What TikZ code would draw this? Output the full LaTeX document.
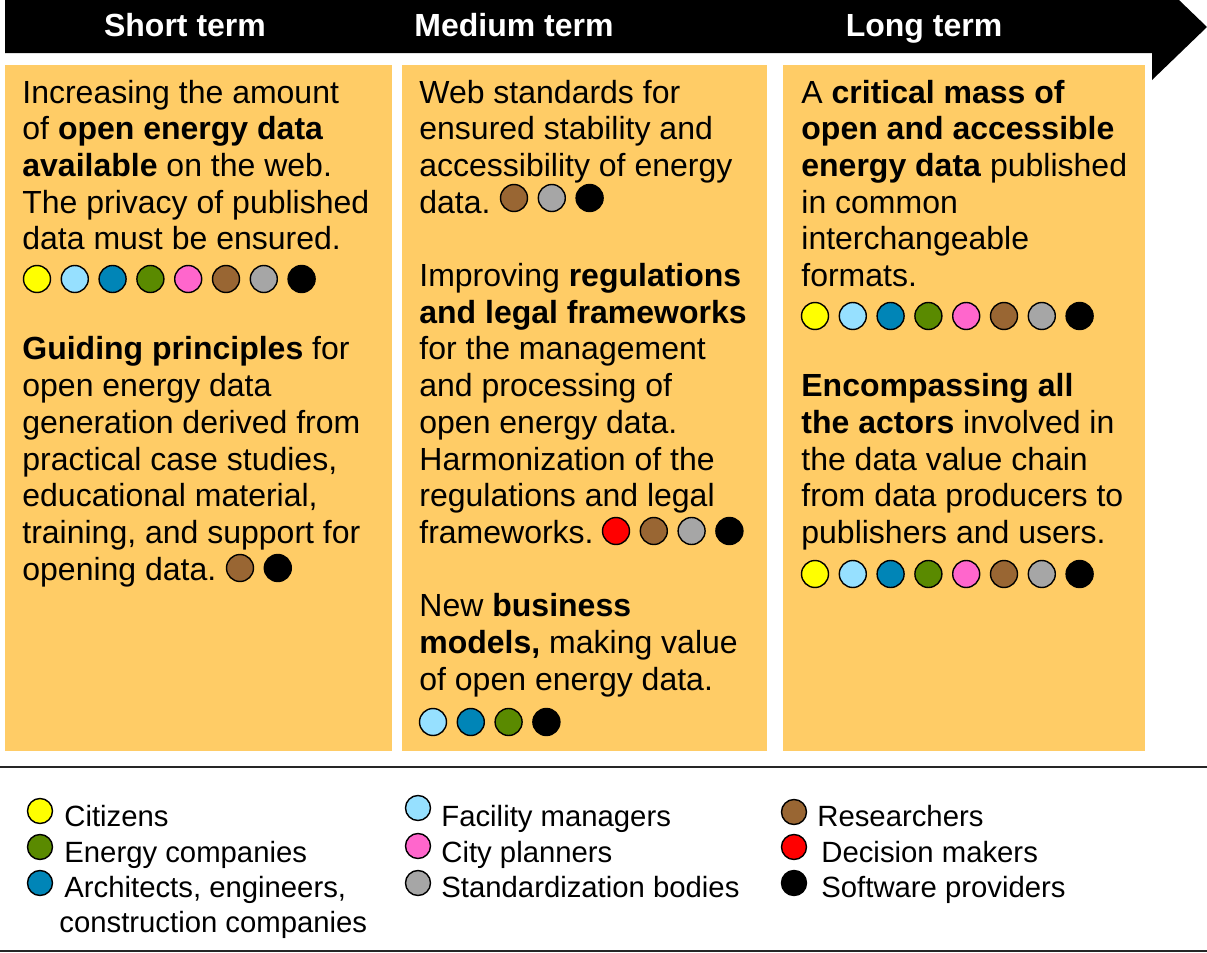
\documentclass[tikz,border=0pt]{standalone}
\usepackage{fontspec}
\setmainfont{Liberation Sans}
\definecolor{boxc}{HTML}{FFCC66}
\definecolor{cy}{HTML}{FFFF00}
\definecolor{clb}{HTML}{96E0FF}
\definecolor{cb}{HTML}{0085B7}
\definecolor{cg}{HTML}{5A8A00}
\definecolor{cp}{HTML}{FF66CC}
\definecolor{cbr}{HTML}{996633}
\definecolor{cgr}{HTML}{A6A6A6}
\definecolor{cr}{HTML}{FF0000}
\definecolor{ck}{HTML}{000000}
\newcommand\paralines[4]{%
  \foreach \t [count=\i] in {#4} {\node[txt] (#1\i) at ({#2},{#3+(\i-1)*36.7}) {\t};}}
\newcommand\dotrow[4]{%
  \foreach \c [count=\i] in {#4} {\node[dot, fill=\c] (#1\i) at ({#2+(\i-1)*37.8},{#3}) {};}}
\begin{document}
\begin{tikzpicture}[x=0.5pt,y=-0.5pt,
  txt/.style={anchor=base west, inner sep=0pt, font=\fontsize{16}{18}\selectfont},
  leg/.style={anchor=base west, inner sep=0pt, font=\fontsize{14.65}{16}\selectfont},
  head/.style={anchor=base, inner sep=0pt, text=white, font=\fontsize{16}{18}\selectfont\bfseries},
  dot/.style={circle, draw=black, line width=0.7pt, minimum size=13.5pt, inner sep=0pt},
  ldot/.style={dot, minimum size=12.5pt},
  box/.style={fill=boxc, anchor=north west, inner sep=0pt, outer sep=0pt}]
\useasboundingbox (0,0) rectangle (1207,953);
% header arrow
\fill[black] (5,0) -- (1152,0) -- (1152,-26) -- (1207,27) -- (1152,80) -- (1152,53) -- (5,53) -- cycle;
\node[head] (h1) at (185,36) {Short term};
\node[head] (h2) at (514,36) {Medium term};
\node[head] (h3) at (924,36) {Long term};
% boxes
\node[box, minimum width=193.5pt, minimum height=343pt] (box1) at (5,65) {};
\node[box, minimum width=182.5pt, minimum height=343pt] (box2) at (402,65) {};
\node[box, minimum width=181pt, minimum height=343pt] (box3) at (783,65) {};
% box 1
\paralines{a}{22}{103}{{Increasing the amount},{of \textbf{open energy data}},{\textbf{available} on the web.},{The privacy of published},{data must be ensured.}}
\dotrow{ra}{37}{279}{cy,clb,cb,cg,cp,cbr,cgr,ck}
\paralines{b}{22}{359.9}{{\textbf{Guiding principles} for},{open energy data},{generation derived from},{practical case studies,},{educational material,},{training, and support for},{opening data.}}
\dotrow{rb}{240}{568}{cbr,ck}
% box 2
\paralines{c}{419}{103}{{Web standards for},{ensured stability and},{accessibility of energy},{data.}}
\dotrow{rc}{514}{198}{cbr,cgr,ck}
\paralines{d}{419}{286.5}{{Improving \textbf{regulations}},{\textbf{and legal frameworks}},{for the management},{and processing of},{open energy data.},{Harmonization of the},{regulations and legal},{frameworks.}}
\dotrow{rd}{616}{531}{cr,cbr,cgr,ck}
\paralines{e}{419}{616.8}{{New \textbf{business}},{\textbf{models,} making value},{of open energy data.}}
\dotrow{re}{433}{722}{clb,cb,cg,ck}
% box 3
\paralines{f}{801}{103}{{A \textbf{critical mass of}},{\textbf{open and accessible}},{\textbf{energy data} published},{in common},{interchangeable},{formats.}}
\dotrow{rf}{815}{316}{cy,clb,cb,cg,cp,cbr,cgr,ck}
\paralines{g}{801}{396.6}{{\textbf{Encompassing all}},{\textbf{the actors} involved in},{the data value chain},{from data producers to},{publishers and users.}}
\dotrow{rg}{815}{574}{cy,clb,cb,cg,cp,cbr,cgr,ck}
% separators
\draw[line width=1pt, black!85] (0,767) -- (1207,767);
\draw[line width=1pt, black!85] (0,951) -- (1207,951);
% legend
\node[ldot, fill=cy] (l1) at (40,811) {};
\node[ldot, fill=cg] (l2) at (40,847) {};
\node[ldot, fill=cb] (l3) at (40,883) {};
\node[leg] (t1) at (64,826) {Citizens};
\node[leg] (t2) at (64,862) {Energy companies};
\node[leg] (t3) at (64,897) {Architects, engineers,};
\node[leg] (t3b) at (59,932) {construction companies};
\node[ldot, fill=clb] (l4) at (418,808) {};
\node[ldot, fill=cp] (l5) at (418,846) {};
\node[ldot, fill=cgr] (l6) at (418,883) {};
\node[leg] (t4) at (441,826) {Facility managers};
\node[leg] (t5) at (441,862) {City planners};
\node[leg] (t6) at (441,897) {Standardization bodies};
\node[ldot, fill=cbr] (l7) at (794,812) {};
\node[ldot, fill=cr] (l8) at (794,847) {};
\node[ldot, fill=ck] (l9) at (794,883) {};
\node[leg] (t7) at (817,826) {Researchers};
\node[leg] (t8) at (821,862) {Decision makers};
\node[leg] (t9) at (821,897) {Software providers};
\end{tikzpicture}
\end{document}
